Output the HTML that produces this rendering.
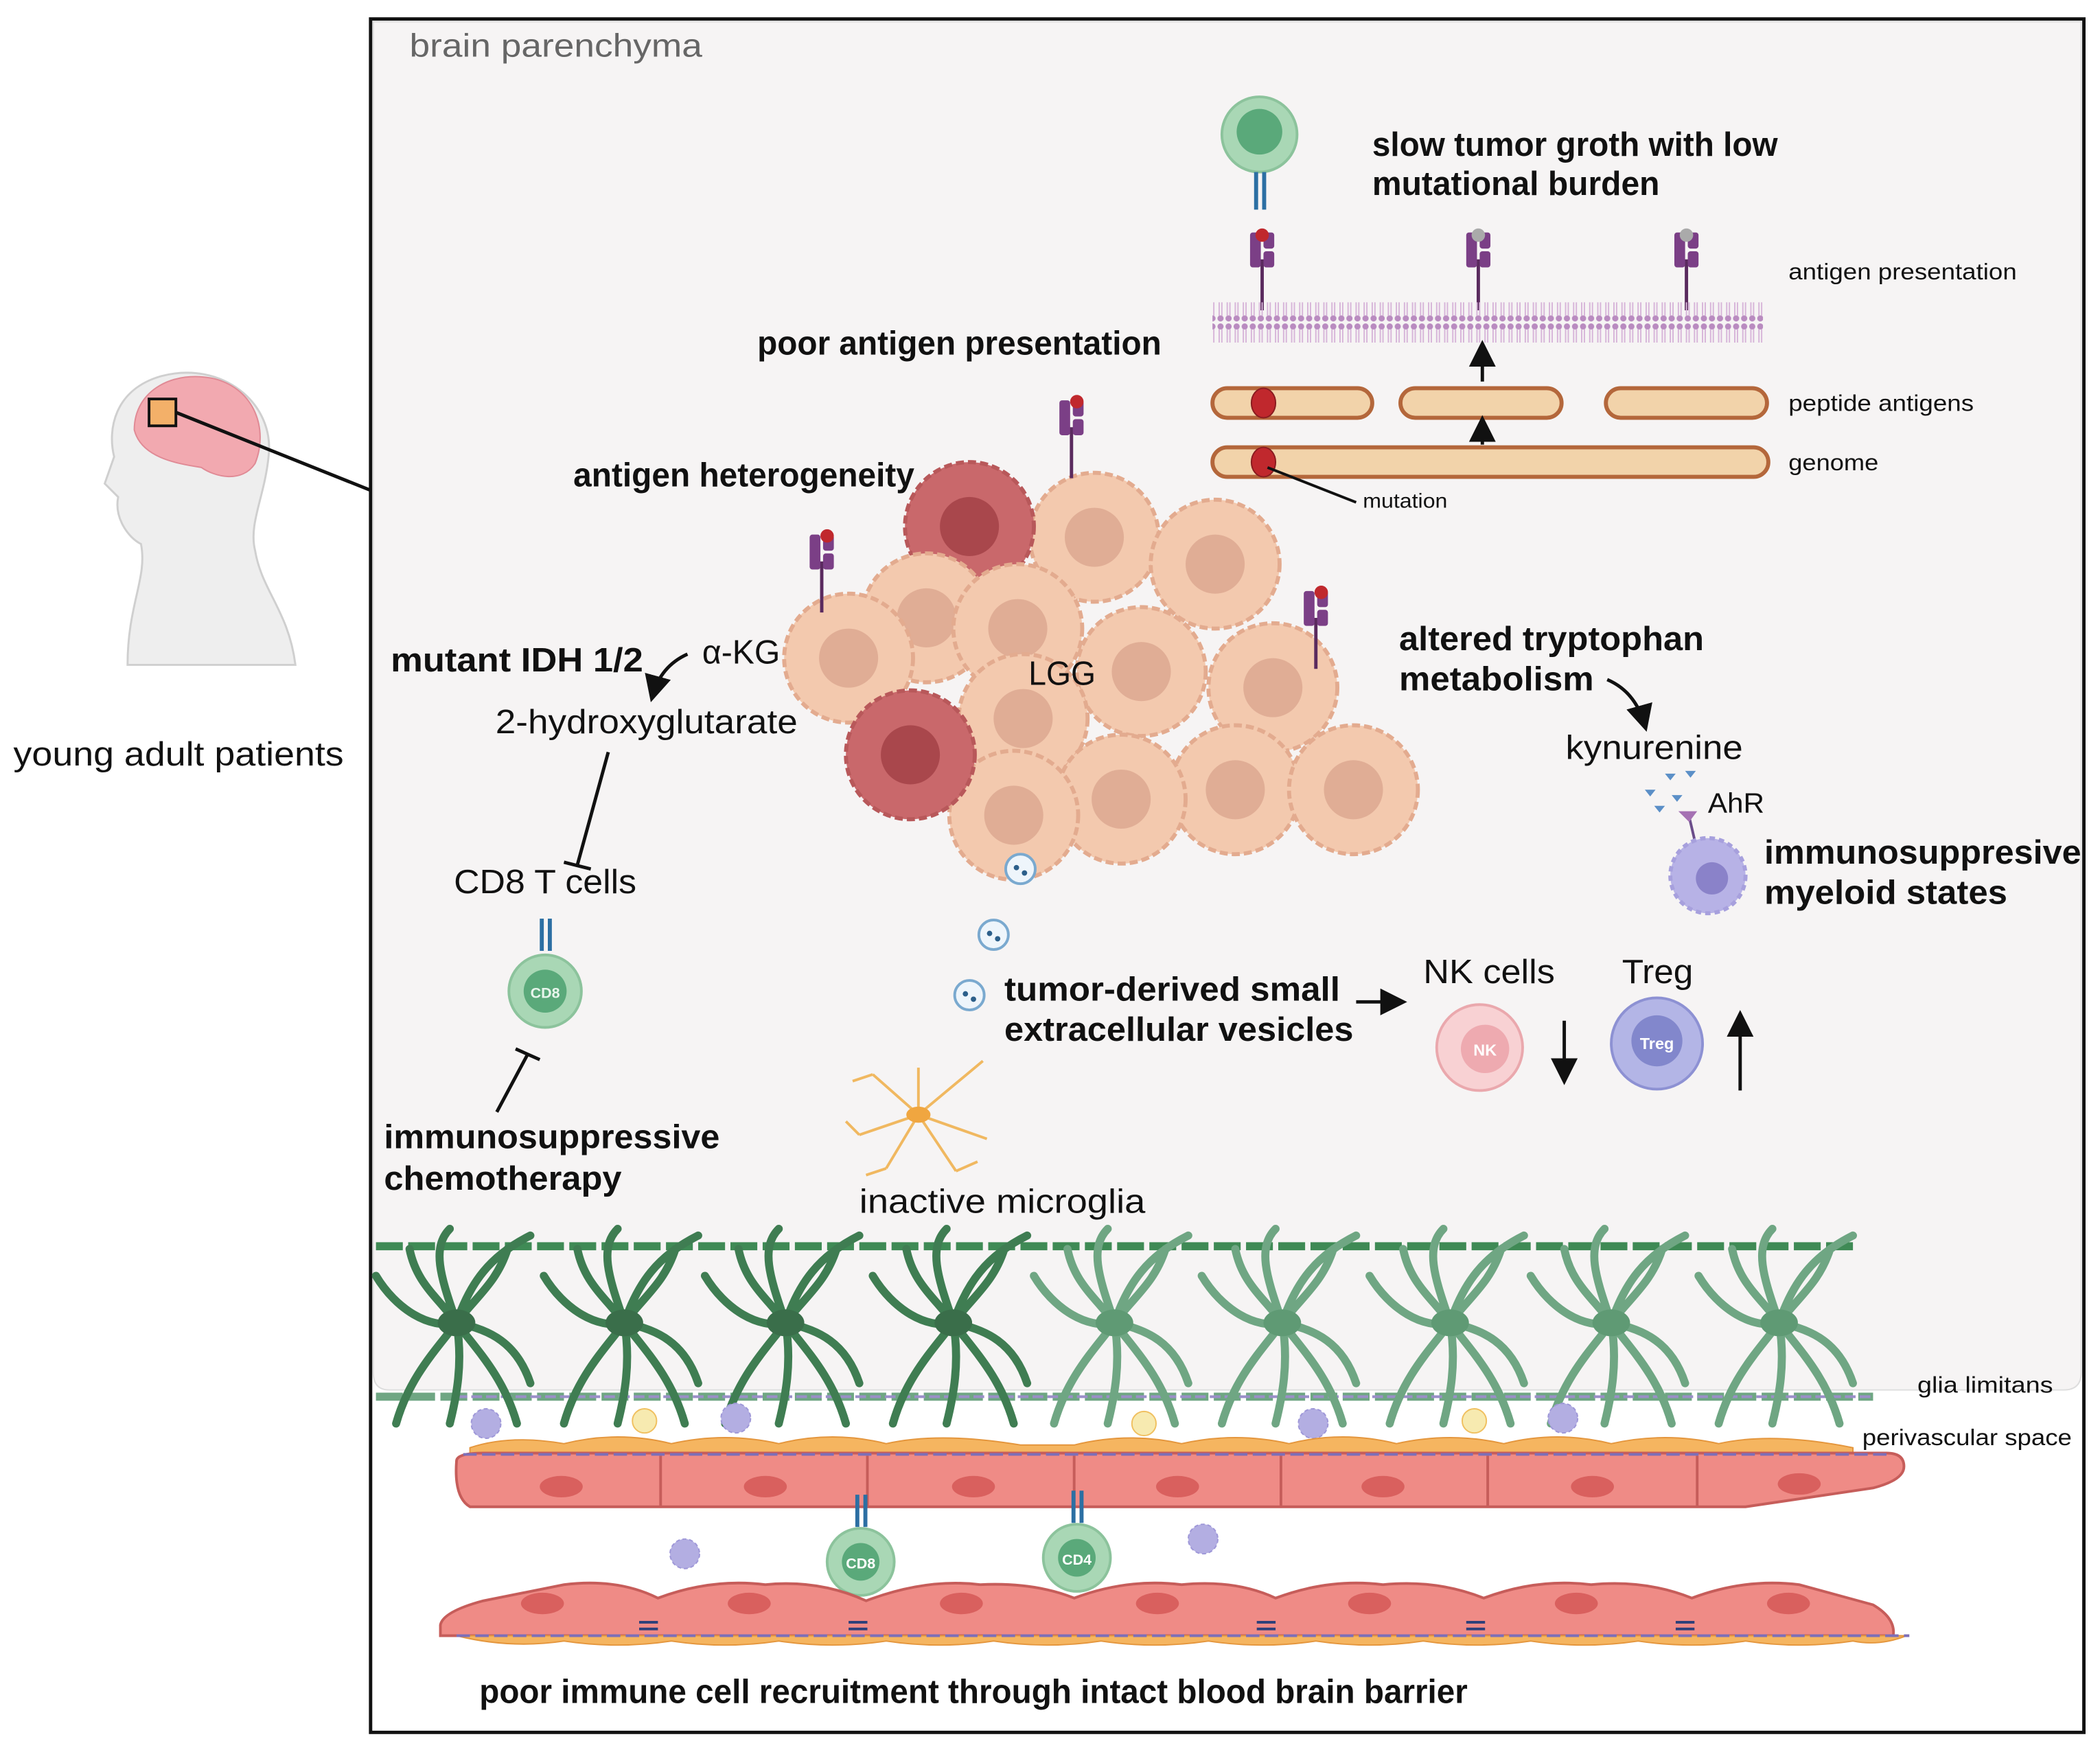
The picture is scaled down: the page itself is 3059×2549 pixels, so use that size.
<!DOCTYPE html>
<html><head><meta charset="utf-8"><style>
html,body{margin:0;padding:0;background:#fff}
svg{display:block}
text{font-family:"Liberation Sans",sans-serif}
.b{font-weight:bold;font-size:25px;fill:#111}
.r{font-size:25px;fill:#111}
.s{font-size:17px;fill:#111}
</style></head><body>
<svg width="3059" height="2549" viewBox="0 0 1564 1303" xmlns="http://www.w3.org/2000/svg">
<defs>
<pattern id="mem" width="6" height="30" patternUnits="userSpaceOnUse">
<circle cx="3" cy="3" r="2.3" fill="#b98bc0"/><circle cx="3" cy="27" r="2.3" fill="#b98bc0"/>
<line x1="2" y1="5" x2="2" y2="25" stroke="#d7b5d9" stroke-width="1"/><line x1="4" y1="5" x2="4" y2="25" stroke="#d7b5d9" stroke-width="1"/>
</pattern>
<g id="mhc"><line x1="0" y1="0" x2="0" y2="38" stroke="#5a2a5e" stroke-width="2.5"/><rect x="-9" y="-20" width="8" height="26" rx="2" fill="#7b3f86"/><rect x="1" y="-20" width="8" height="12" rx="2" fill="#7b3f86"/><rect x="1" y="-6" width="8" height="12" rx="2" fill="#7b3f86"/></g>
<g id="tc"><circle r="48" fill="#f3c9ae" stroke="#e3ab8f" stroke-width="3" stroke-dasharray="6 3"/><circle r="22" fill="#e0ad95"/></g>
<g id="tcd"><circle r="48" fill="#c9686b" stroke="#b8585a" stroke-width="3" stroke-dasharray="6 3"/><circle r="22" fill="#a9474c"/></g>
<g id="astro" fill="none" stroke-width="6" stroke-linecap="round">
<path d="M0 0 C-15 -20 -30 -30 -35 -55 M0 0 C15 -20 30 -30 38 -55 M0 0 C-10 -30 -20 -55 -5 -70 M0 0 C10 -30 25 -50 55 -65 M0 0 C-20 5 -45 -10 -60 -35 M0 0 C-15 20 -35 40 -45 75 M0 0 C15 20 35 40 45 75 M0 0 C5 30 0 55 -5 75 M0 0 C25 5 45 15 55 45"/>
</g>
<marker id="ar" markerWidth="8" markerHeight="8" refX="6" refY="4" orient="auto"><path d="M0 0L8 4L0 8z" fill="#111"/></marker>
</defs>

<!-- frame -->
<rect x="276" y="14" width="1276" height="1276" fill="#fff" stroke="#111" stroke-width="2.5"/>
<path d="M278 16 H1550 V1022 Q1550 1035 1537 1035 H290 Q278 1035 278 1022 Z" fill="#f6f4f4" stroke="#ddd" stroke-width="1"/>
<text x="305" y="42" font-size="24" fill="#666" textLength="218" lengthAdjust="spacingAndGlyphs">brain parenchyma</text>

<!-- head -->
<path d="M95 495 C95 450 110 430 105 405 C95 400 85 385 88 370 L78 360 L85 340 C80 320 85 290 120 280 C165 268 205 300 200 340 C197 370 185 390 190 410 C195 440 215 455 220 495 Z" fill="#eeeeee" stroke="#cfcfcf" stroke-width="1.5"/>
<path d="M100 320 C100 290 130 275 160 282 C190 290 200 320 190 345 C180 360 160 355 150 348 C130 345 105 340 100 320Z" fill="#f2a9b0" stroke="#e08a95"/>
<rect x="111" y="297" width="20" height="20" fill="#f3b069" stroke="#111" stroke-width="2"/>
<line x1="131" y1="307" x2="276" y2="365" stroke="#111" stroke-width="2.5"/>
<text x="10" y="570" class="r" textLength="246" lengthAdjust="spacingAndGlyphs">young adult patients</text>

<!-- top right -->
<circle cx="938" cy="100" r="28" fill="#a9d7b5" stroke="#8cc39c" stroke-width="2"/><circle cx="938" cy="98" r="17" fill="#5aa97a"/>
<rect x="934" y="128" width="3" height="28" fill="#2c6fa3"/><rect x="940" y="128" width="3" height="28" fill="#2c6fa3"/>
<text x="1022" y="116" class="b" textLength="302" lengthAdjust="spacingAndGlyphs">slow tumor groth with low</text>
<text x="1022" y="145" class="b" textLength="214" lengthAdjust="spacingAndGlyphs">mutational burden</text>
<use href="#mhc" x="940" y="193"/><circle cx="940" cy="175" r="5" fill="#c0282d"/>
<use href="#mhc" x="1101" y="193"/><circle cx="1101" cy="175" r="5" fill="#aaa"/>
<use href="#mhc" x="1256" y="193"/><circle cx="1256" cy="175" r="5" fill="#aaa"/>
<rect x="903" y="225" width="410" height="30" fill="url(#mem)"/>
<text x="1332" y="208" class="s" textLength="170" lengthAdjust="spacingAndGlyphs">antigen presentation</text>
<g fill="#f2d3aa" stroke="#b4673b" stroke-width="3">
<rect x="903" y="289" width="119" height="22" rx="11"/><rect x="1043" y="289" width="120" height="22" rx="11"/><rect x="1196" y="289" width="120" height="22" rx="11"/>
<rect x="903" y="333" width="414" height="22" rx="11"/></g>
<ellipse cx="941" cy="300" rx="9" ry="11" fill="#c0282d" stroke="#8a1c20"/>
<ellipse cx="941" cy="344" rx="9" ry="11" fill="#c0282d" stroke="#8a1c20"/>
<line x1="944" y1="348" x2="1010" y2="374" stroke="#111" stroke-width="2"/>
<text x="1015" y="378" font-size="15" fill="#111" textLength="63" lengthAdjust="spacingAndGlyphs">mutation</text>
<line x1="1104" y1="284" x2="1104" y2="258" stroke="#111" stroke-width="2.5" marker-end="url(#ar)"/>
<line x1="1104" y1="331" x2="1104" y2="314" stroke="#111" stroke-width="2.5" marker-end="url(#ar)"/>
<text x="1332" y="306" class="s" textLength="138" lengthAdjust="spacingAndGlyphs">peptide antigens</text>
<text x="1332" y="350" class="s" textLength="67" lengthAdjust="spacingAndGlyphs">genome</text>

<!-- tumor -->
<text x="564" y="264" class="b" textLength="301" lengthAdjust="spacingAndGlyphs">poor antigen presentation</text>
<text x="427" y="362" class="b" textLength="254" lengthAdjust="spacingAndGlyphs">antigen heterogeneity</text>
<use href="#tc" x="815" y="400"/><use href="#tc" x="905" y="420"/><use href="#tcd" x="722" y="392"/>
<use href="#tc" x="690" y="460"/><use href="#tc" x="632" y="490"/><use href="#tc" x="758" y="468"/>
<use href="#tc" x="850" y="500"/><use href="#tc" x="948" y="512"/><use href="#tc" x="762" y="535"/>
<use href="#tc" x="920" y="588"/><use href="#tc" x="1008" y="588"/><use href="#tc" x="835" y="595"/>
<use href="#tc" x="755" y="607"/><use href="#tcd" x="678" y="562"/>
<use href="#mhc" x="798" y="318"/><circle cx="802" cy="299" r="5" fill="#c0282d"/>
<use href="#mhc" x="612" y="418"/><circle cx="616" cy="399" r="5" fill="#c0282d"/>
<use href="#mhc" x="980" y="460"/><circle cx="984" cy="441" r="5" fill="#c0282d"/>
<text x="766" y="510" class="r" textLength="50" lengthAdjust="spacingAndGlyphs">LGG</text>
<g fill="#eef5fb" stroke="#7aa9cf" stroke-width="2"><circle cx="760" cy="647" r="11"/><circle cx="740" cy="696" r="11"/><circle cx="722" cy="741" r="11"/></g>
<g fill="#2c5f8a"><circle cx="757" cy="646" r="2"/><circle cx="763" cy="650" r="2"/><circle cx="737" cy="695" r="2"/><circle cx="743" cy="699" r="2"/><circle cx="719" cy="740" r="2"/><circle cx="725" cy="744" r="2"/></g>

<!-- left side -->
<text x="291" y="500" class="b" textLength="188" lengthAdjust="spacingAndGlyphs">mutant IDH 1/2</text>
<text x="523" y="494" class="r" textLength="58" lengthAdjust="spacingAndGlyphs">α-KG</text>
<path d="M512 487 Q492 496 486 518" fill="none" stroke="#111" stroke-width="2.5" marker-end="url(#ar)"/>
<text x="369" y="546" class="r" textLength="225" lengthAdjust="spacingAndGlyphs">2-hydroxyglutarate</text>
<line x1="453" y1="560" x2="430" y2="644" stroke="#111" stroke-width="2.5"/><line x1="420" y1="642" x2="440" y2="647" stroke="#111" stroke-width="2.5"/>
<text x="338" y="665" class="r" textLength="136" lengthAdjust="spacingAndGlyphs">CD8 T cells</text>
<rect x="402" y="684" width="3" height="24" fill="#2c6fa3"/><rect x="408" y="684" width="3" height="24" fill="#2c6fa3"/>
<circle cx="406" cy="738" r="27" fill="#a9d7b5" stroke="#8cc39c" stroke-width="2"/><circle cx="406" cy="738" r="16" fill="#5aa97a"/>
<text x="406" y="743" font-size="11" font-weight="bold" fill="#e8f5ec" text-anchor="middle">CD8</text>
<line x1="370" y1="828" x2="393" y2="785" stroke="#111" stroke-width="2.5"/><line x1="384" y1="781" x2="402" y2="789" stroke="#111" stroke-width="2.5"/>
<text x="286" y="855" class="b" textLength="250" lengthAdjust="spacingAndGlyphs">immunosuppressive</text>
<text x="286" y="886" class="b" textLength="177" lengthAdjust="spacingAndGlyphs">chemotherapy</text>

<!-- microglia -->
<g stroke="#f0b860" stroke-width="2" fill="none">
<path d="M684 830 L650 800 M684 830 L720 800 M684 830 L640 845 M684 830 L735 848 M684 830 L660 870 M684 830 L712 872 M684 830 L684 795 M650 800 L635 805 M720 800 L732 790 M660 870 L645 875 M712 872 L728 865 M640 845 L630 835"/></g>
<ellipse cx="684" cy="830" rx="9" ry="6" fill="#f0a640"/>
<text x="640" y="903" class="r" textLength="213" lengthAdjust="spacingAndGlyphs">inactive microglia</text>

<!-- right side -->
<text x="1042" y="484" class="b" textLength="227" lengthAdjust="spacingAndGlyphs">altered tryptophan</text>
<text x="1042" y="514" class="b" textLength="145" lengthAdjust="spacingAndGlyphs">metabolism</text>
<path d="M1197 506 Q1218 515 1225 540" fill="none" stroke="#111" stroke-width="2.5" marker-end="url(#ar)"/>
<text x="1166" y="565" class="r" textLength="132" lengthAdjust="spacingAndGlyphs">kynurenine</text>
<g fill="#5b8fc7"><path d="M1240 576l8 0-4 5z"/><path d="M1255 574l8 0-4 5z"/><path d="M1225 588l8 0-4 5z"/><path d="M1245 592l8 0-4 5z"/><path d="M1232 600l8 0-4 5z"/></g>
<text x="1272" y="605" font-size="21" fill="#111" textLength="42" lengthAdjust="spacingAndGlyphs">AhR</text>
<line x1="1258" y1="608" x2="1262" y2="625" stroke="#6b4d8a" stroke-width="2"/><path d="M1250 604 l14 0 -6 8z" fill="#a571b3"/>
<circle cx="1272" cy="652" r="28" fill="#b7b2e6" stroke="#a7a0dd" stroke-width="3" stroke-dasharray="4 3"/><circle cx="1275" cy="654" r="12" fill="#8a82c9"/>
<text x="1314" y="643" class="b" textLength="236" lengthAdjust="spacingAndGlyphs">immunosuppresive</text>
<text x="1314" y="673" class="b" textLength="181" lengthAdjust="spacingAndGlyphs">myeloid states</text>

<text x="748" y="745" class="b" textLength="250" lengthAdjust="spacingAndGlyphs">tumor-derived small</text>
<text x="748" y="775" class="b" textLength="260" lengthAdjust="spacingAndGlyphs">extracellular vesicles</text>
<line x1="1010" y1="746" x2="1043" y2="746" stroke="#111" stroke-width="2.5" marker-end="url(#ar)"/>
<text x="1060" y="732" class="r" textLength="98" lengthAdjust="spacingAndGlyphs">NK cells</text>
<text x="1208" y="732" class="r" textLength="53" lengthAdjust="spacingAndGlyphs">Treg</text>
<circle cx="1102" cy="780" r="32" fill="#f8d1d3" stroke="#eaa8ad" stroke-width="2"/><circle cx="1106" cy="781" r="18" fill="#eeaab0"/>
<text x="1106" y="786" font-size="12" font-weight="bold" fill="#fff" text-anchor="middle">NK</text>
<circle cx="1234" cy="777" r="34" fill="#b3b5e6" stroke="#8d91d3" stroke-width="2"/><circle cx="1234" cy="775" r="19" fill="#8287cc"/>
<text x="1234" y="781" font-size="12" font-weight="bold" fill="#fff" text-anchor="middle">Treg</text>
<line x1="1165" y1="760" x2="1165" y2="803" stroke="#111" stroke-width="2.5" marker-end="url(#ar)"/>
<line x1="1296" y1="812" x2="1296" y2="757" stroke="#111" stroke-width="2.5" marker-end="url(#ar)"/>

<!-- glia limitans -->
<line x1="280" y1="928" x2="1380" y2="928" stroke="#3f8a55" stroke-width="6" stroke-dasharray="20 4"/>
<line x1="280" y1="1040" x2="1395" y2="1040" stroke="#6fa683" stroke-width="6" stroke-dasharray="20 4"/>
<line x1="340" y1="1040" x2="1395" y2="1040" stroke="#9a8fc8" stroke-width="2" stroke-dasharray="8 3"/>
<g stroke="#3f7d52"><use href="#astro" x="340" y="985"/><use href="#astro" x="465" y="985"/><use href="#astro" x="585" y="985"/><use href="#astro" x="710" y="985"/></g>
<g stroke="#6fa683"><use href="#astro" x="830" y="985"/><use href="#astro" x="955" y="985"/><use href="#astro" x="1080" y="985"/><use href="#astro" x="1200" y="985"/><use href="#astro" x="1325" y="985"/></g>
<g fill="#3a6e4a"><ellipse cx="340" cy="985" rx="14" ry="10"/><ellipse cx="465" cy="985" rx="14" ry="10"/><ellipse cx="585" cy="985" rx="14" ry="10"/><ellipse cx="710" cy="985" rx="14" ry="10"/></g>
<g fill="#5f9a74"><ellipse cx="830" cy="985" rx="14" ry="10"/><ellipse cx="955" cy="985" rx="14" ry="10"/><ellipse cx="1080" cy="985" rx="14" ry="10"/><ellipse cx="1200" cy="985" rx="14" ry="10"/><ellipse cx="1325" cy="985" rx="14" ry="10"/></g>
<text x="1428" y="1037" class="s" textLength="101" lengthAdjust="spacingAndGlyphs">glia limitans</text>
<text x="1387" y="1076" class="s" textLength="156" lengthAdjust="spacingAndGlyphs">perivascular space</text>

<!-- perivascular cells -->
<g fill="#b3aee2" stroke="#9e97d8" stroke-dasharray="3 2"><circle cx="362" cy="1060" r="11"/><circle cx="548" cy="1056" r="11"/><circle cx="978" cy="1060" r="11"/><circle cx="1164" cy="1056" r="11"/><circle cx="510" cy="1157" r="11"/><circle cx="896" cy="1146" r="11"/></g>
<g fill="#f7eab0" stroke="#f0c060"><circle cx="480" cy="1058" r="9"/><circle cx="852" cy="1060" r="9"/><circle cx="1098" cy="1058" r="9"/></g>

<!-- upper vessel -->
<path d="M350 1078 Q380 1068 420 1075 Q460 1065 500 1075 Q540 1066 580 1075 Q620 1065 660 1075 Q700 1066 760 1076 L800 1076 Q840 1066 880 1075 Q920 1066 960 1075 Q1000 1065 1040 1075 Q1080 1066 1120 1075 Q1160 1065 1200 1075 Q1240 1066 1280 1075 Q1320 1066 1380 1078 L1380 1084 L350 1084Z" fill="#f5b560" stroke="#e4963d"/>
<path d="M340 1088 Q340 1082 360 1082 L1405 1082 Q1418 1082 1418 1092 Q1418 1102 1395 1108 L1300 1122 L350 1122 Q338 1115 340 1088Z" fill="#ef8b86" stroke="#c65d5a" stroke-width="2"/>
<g stroke="#c65d5a" stroke-width="2"><line x1="492" y1="1084" x2="492" y2="1122"/><line x1="646" y1="1084" x2="646" y2="1122"/><line x1="800" y1="1084" x2="800" y2="1122"/><line x1="954" y1="1084" x2="954" y2="1122"/><line x1="1108" y1="1084" x2="1108" y2="1122"/><line x1="1264" y1="1084" x2="1264" y2="1122"/></g>
<g fill="#d9605e"><ellipse cx="418" cy="1107" rx="16" ry="8"/><ellipse cx="570" cy="1107" rx="16" ry="8"/><ellipse cx="725" cy="1107" rx="16" ry="8"/><ellipse cx="877" cy="1107" rx="16" ry="8"/><ellipse cx="1030" cy="1107" rx="16" ry="8"/><ellipse cx="1186" cy="1107" rx="16" ry="8"/><ellipse cx="1340" cy="1105" rx="16" ry="8"/></g>
<line x1="345" y1="1083" x2="1405" y2="1083" stroke="#7d6fb8" stroke-width="2" stroke-dasharray="10 4"/>

<!-- T cells in lumen -->
<rect x="637" y="1113" width="3" height="24" fill="#2c6fa3"/><rect x="643" y="1113" width="3" height="24" fill="#2c6fa3"/>
<circle cx="641" cy="1163" r="25" fill="#a9d7b5" stroke="#8cc39c" stroke-width="2"/><circle cx="641" cy="1163" r="14" fill="#5aa97a"/>
<text x="641" y="1168" font-size="11" font-weight="bold" fill="#fff" text-anchor="middle">CD8</text>
<rect x="798" y="1110" width="3" height="24" fill="#2c6fa3"/><rect x="804" y="1110" width="3" height="24" fill="#2c6fa3"/>
<circle cx="802" cy="1160" r="25" fill="#a9d7b5" stroke="#8cc39c" stroke-width="2"/><circle cx="802" cy="1160" r="14" fill="#5aa97a"/>
<text x="802" y="1165" font-size="11" font-weight="bold" fill="#fff" text-anchor="middle">CD4</text>

<!-- lower vessel -->
<path d="M328 1210 Q330 1200 360 1192 L420 1180 Q460 1175 490 1190 Q530 1175 570 1180 Q610 1176 645 1192 Q690 1175 730 1180 Q770 1178 800 1190 Q840 1175 880 1180 Q920 1176 950 1190 Q990 1175 1030 1180 Q1070 1176 1105 1190 Q1145 1175 1185 1180 Q1225 1176 1260 1190 Q1300 1175 1340 1180 L1395 1195 Q1412 1205 1410 1218 L328 1218Z" fill="#ef8b86" stroke="#c65d5a" stroke-width="2"/>
<g fill="#d9605e"><ellipse cx="404" cy="1194" rx="16" ry="8"/><ellipse cx="558" cy="1194" rx="16" ry="8"/><ellipse cx="716" cy="1194" rx="16" ry="8"/><ellipse cx="862" cy="1194" rx="16" ry="8"/><ellipse cx="1020" cy="1194" rx="16" ry="8"/><ellipse cx="1174" cy="1194" rx="16" ry="8"/><ellipse cx="1332" cy="1194" rx="16" ry="8"/></g>
<g stroke="#2c3f7a" stroke-width="2"><line x1="476" y1="1208" x2="490" y2="1208"/><line x1="476" y1="1213" x2="490" y2="1213"/><line x1="632" y1="1208" x2="646" y2="1208"/><line x1="632" y1="1213" x2="646" y2="1213"/><line x1="936" y1="1208" x2="950" y2="1208"/><line x1="936" y1="1213" x2="950" y2="1213"/><line x1="1092" y1="1208" x2="1106" y2="1208"/><line x1="1092" y1="1213" x2="1106" y2="1213"/><line x1="1248" y1="1208" x2="1262" y2="1208"/><line x1="1248" y1="1213" x2="1262" y2="1213"/></g>
<path d="M340 1218 L1420 1218 Q1400 1226 1380 1222 Q1340 1228 1300 1222 Q1260 1228 1220 1222 Q1180 1228 1140 1222 Q1100 1228 1060 1222 Q1020 1228 980 1222 Q940 1228 900 1222 Q860 1228 820 1222 Q780 1228 740 1222 Q700 1228 660 1222 Q620 1228 580 1222 Q540 1228 500 1222 Q460 1228 420 1222 Q380 1228 340 1218Z" fill="#f5b560" stroke="#e4963d"/>
<line x1="340" y1="1218" x2="1422" y2="1218" stroke="#7d6fb8" stroke-width="2" stroke-dasharray="10 4"/>

<text x="357" y="1268" class="b" textLength="736" lengthAdjust="spacingAndGlyphs">poor immune cell recruitment through intact blood brain barrier</text>
</svg>
</body></html>
